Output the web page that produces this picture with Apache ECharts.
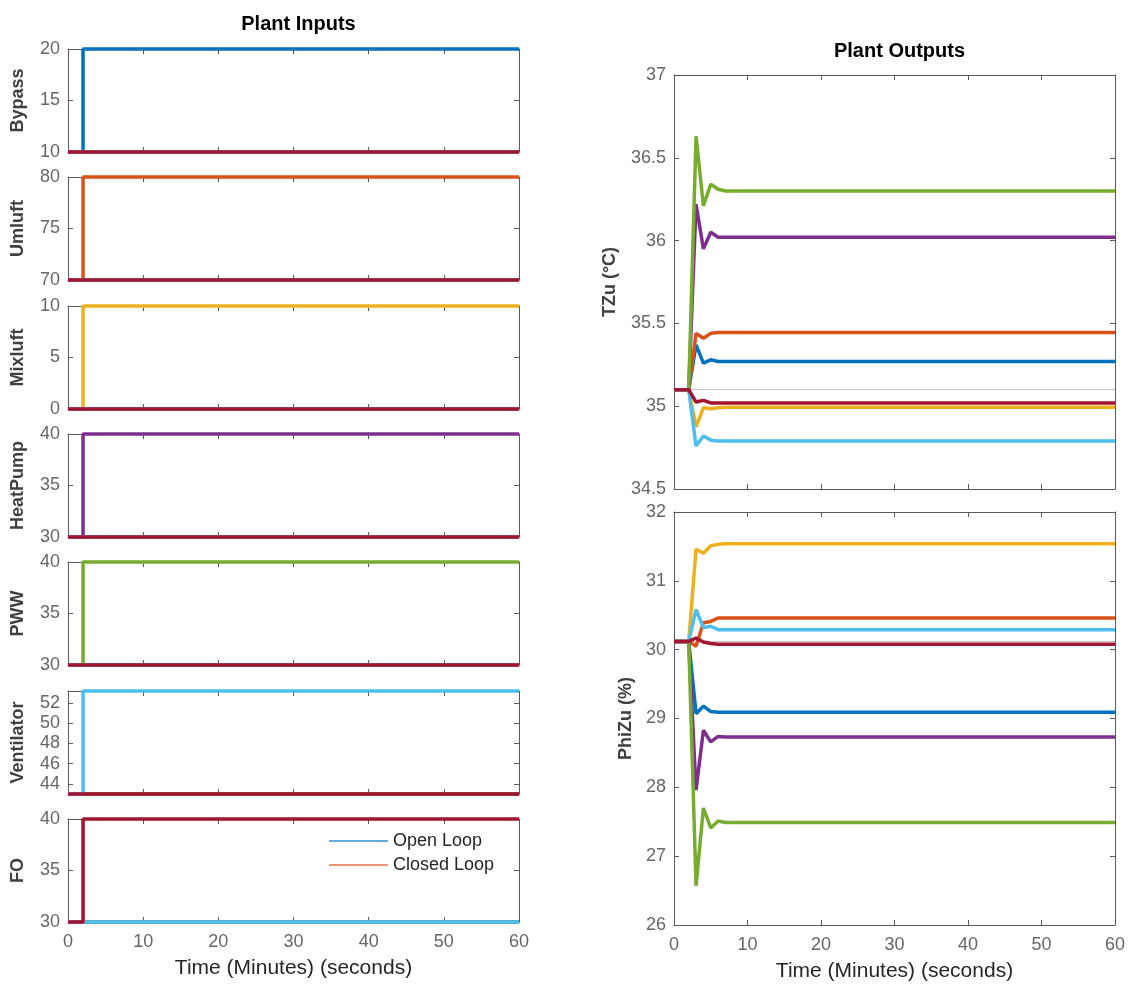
<!DOCTYPE html>
<html><head><meta charset="utf-8">
<script src="https://cdn.jsdelivr.net/npm/echarts@6/dist/echarts.min.js"></script>
<style>html,body{margin:0;padding:0;background:#fff}#c{width:1131px;height:986px}</style>
</head><body><div id="c"></div>
<script>
// ---------- DATA ----------
const colors = ['#0072BD','#D95319','#EDB120','#7E2F8E','#77AC30','#4DBEEE','#A2142F'];
const inputNames = ['Bypass','Umluft','Mixluft','HeatPump','PWW','Ventilator','FO'];
const inputLow  = [10, 70, 0, 30, 30, 43, 30];
const inputHigh = [20, 80, 10, 40, 40, 53.2, 40];
const inputTicks = [[10,15,20],[70,75,80],[0,5,10],[30,35,40],[30,35,40],[44,46,48,50,52],[30,35,40]];
const inputTime = [0, 2, 2, 60];           // step at t = 2
const xTicks = [0,10,20,30,40,50,60];

const tOut = [0, 2, 3, 4, 5, 6, 7, 60];
const tzuBlue   = [35.1, 35.1, 35.37, 35.26, 35.28, 35.27, 35.27, 35.27];
const tzuOrange = [35.1, 35.1, 35.44, 35.41, 35.44, 35.445, 35.445, 35.445];
const tzuYellow = [35.1, 35.1, 34.875, 34.99, 34.985, 34.99, 34.993, 34.993];
const tzuPurple = [35.1, 35.1, 36.22, 35.95, 36.05, 36.02, 36.02, 36.02];
const tzuGreen  = [35.1, 35.1, 36.63, 36.21, 36.34, 36.31, 36.30, 36.30];
const tzuLight  = [35.1, 35.1, 34.76, 34.82, 34.795, 34.79, 34.79, 34.79];
const tzuRed    = [35.1, 35.1, 35.025, 35.035, 35.02, 35.02, 35.02, 35.02];
const tzuRef = 35.1;
const tzuTicks = [34.5, 35, 35.5, 36, 36.5, 37];

const phiBlue   = [30.12, 30.12, 29.07, 29.18, 29.10, 29.09, 29.09, 29.09];
const phiOrange = [30.12, 30.12, 30.05, 30.39, 30.41, 30.46, 30.46, 30.46];
const phiYellow = [30.12, 30.12, 31.46, 31.40, 31.51, 31.53, 31.54, 31.54];
const phiPurple = [30.12, 30.12, 27.96, 28.83, 28.66, 28.74, 28.73, 28.73];
const phiGreen  = [30.12, 30.12, 26.57, 27.70, 27.41, 27.51, 27.49, 27.49];
const phiLight  = [30.12, 30.12, 30.58, 30.32, 30.34, 30.29, 30.29, 30.29];
const phiRed    = [30.12, 30.12, 30.17, 30.11, 30.09, 30.08, 30.08, 30.08];
const phiRef = 30.12;
const phiTicks = [26, 27, 28, 29, 30, 31, 32];

const legendNames = ['Open Loop', 'Closed Loop'];
const titles = ['Plant Inputs', 'Plant Outputs'];
const xName = 'Time (Minutes) (seconds)';
const outNames = ['TZu (°C)', 'PhiZu (%)'];

// ---------- LAYOUT / STYLE ----------
const FONT = 'Liberation Sans, Arial, Helvetica, sans-serif';
const AX = '#5a5a5a';
const TICKC = '#666666';
const LW = 3.5;
const leftTops = [49, 177, 306, 434, 562, 691, 819];
const grids = leftTops.map(t => ({left: 68, top: t, width: 451, height: 103}));
grids.push({left: 674, top: 75, width: 441, height: 414});
grids.push({left: 674, top: 512, width: 441, height: 413});

const xAxes = [], yAxes = [];
function addAxes(g, ticks, showX, yName, yNameGap) {
  const base = {type: 'value', gridIndex: g, splitLine: {show: false},
    axisLine: {show: true, onZero: false, lineStyle: {color: AX, width: 1}},
    axisTick: {show: true, inside: true, length: 5, lineStyle: {color: AX}}};
  xAxes.push(Object.assign({}, base, {position: 'bottom', min: xTicks[0], max: xTicks[xTicks.length-1],
    interval: xTicks[1]-xTicks[0],
    axisLabel: {show: showX, color: TICKC, fontSize: 18, fontFamily: FONT, margin: 11, showMinLabel: true, showMaxLabel: true},
    name: showX ? xName : '', nameLocation: 'middle', nameGap: 36,
    nameTextStyle: {fontSize: 21, color: '#262626', fontFamily: FONT}}));
  xAxes.push(Object.assign({}, base, {position: 'top', min: xTicks[0], max: xTicks[xTicks.length-1],
    interval: xTicks[1]-xTicks[0], axisLabel: {show: false}}));
  const ymin = ticks.min, ymax = ticks.max;
  const yl = {type: 'value', gridIndex: g, splitLine: {show: false}, min: ymin, max: ymax,
    axisLine: {show: true, onZero: false, lineStyle: {color: AX, width: 1}},
    axisTick: {show: true, inside: true, length: 5, lineStyle: {color: AX}, customValues: ticks.vals},
    axisLabel: {show: true, color: TICKC, fontSize: 18, fontFamily: FONT, margin: 8, customValues: ticks.vals,
      showMinLabel: true, showMaxLabel: true},
    position: 'left', name: yName, nameLocation: 'middle', nameGap: yNameGap, nameRotate: 90,
    nameTextStyle: {fontSize: 18, fontWeight: 'bold', color: '#404040', fontFamily: FONT}};
  yAxes.push(yl);
  yAxes.push({type: 'value', gridIndex: g, splitLine: {show: false}, min: ymin, max: ymax, position: 'right',
    axisLine: {show: true, onZero: false, lineStyle: {color: AX, width: 1}},
    axisTick: {show: true, inside: true, length: 5, lineStyle: {color: AX}, customValues: ticks.vals},
    axisLabel: {show: false}});
}

const series = [];
inputNames.forEach((nm, i) => {
  addAxes(i, {min: inputLow[i], max: inputHigh[i], vals: inputTicks[i]}, i === 6, nm, 41);
  for (let j = 0; j < 7; j++) {
    const lo = inputLow[i], hi = j === i ? inputHigh[i] : inputLow[i];
    const vals = [lo, lo, hi, hi];
    series.push({type: 'line', xAxisIndex: 2*i, yAxisIndex: 2*i, symbol: 'none', clip: false,
      silent: true, animation: false, color: colors[j], lineStyle: {width: LW, color: colors[j]},
      data: inputTime.map((t, k) => [t, vals[k]])});
  }
});

const tzu = [tzuBlue, tzuOrange, tzuYellow, tzuPurple, tzuGreen, tzuLight, tzuRed];
const phi = [phiBlue, phiOrange, phiYellow, phiPurple, phiGreen, phiLight, phiRed];
addAxes(7, {min: tzuTicks[0], max: tzuTicks[tzuTicks.length-1], vals: tzuTicks}, false, outNames[0], 55);
addAxes(8, {min: phiTicks[0], max: phiTicks[phiTicks.length-1], vals: phiTicks}, true, outNames[1], 39);
[[7, tzu, tzuRef], [8, phi, phiRef]].forEach(([g, arr, ref]) => {
  series.push({type: 'line', xAxisIndex: 2*g, yAxisIndex: 2*g, symbol: 'none', silent: true, animation: false,
    lineStyle: {width: 1, color: '#c0c0c0'}, color: '#c0c0c0',
    data: [[tOut[0], ref], [tOut[tOut.length-1], ref]]});
  arr.forEach((vals, j) => {
    series.push({type: 'line', xAxisIndex: 2*g, yAxisIndex: 2*g, symbol: 'none', silent: true, animation: false,
      color: colors[j], lineStyle: {width: LW, color: colors[j]},
      data: tOut.map((t, k) => [t, vals[k]])});
  });
});

// legend dummy series (FO subplot)
const legendColors = ['rgba(0,114,189,0.6)', 'rgba(217,83,25,0.6)'];
legendNames.forEach((nm, k) => {
  series.push({type: 'line', name: nm, xAxisIndex: 12, yAxisIndex: 12, symbol: 'none', data: [],
    color: legendColors[k], lineStyle: {width: 1.5, color: legendColors[k]}});
});

const chart = echarts.init(document.getElementById('c'), null, {renderer: 'canvas'});
chart.setOption({
  animation: false,
  backgroundColor: '#fff',
  title: [
    {text: titles[0], left: 293.5, top: 9, textAlign: 'center',
      textStyle: {fontSize: 20, fontWeight: 'bold', color: '#000', fontFamily: FONT}},
    {text: titles[1], left: 894.5, top: 36, textAlign: 'center',
      textStyle: {fontSize: 20, fontWeight: 'bold', color: '#000', fontFamily: FONT}}
  ],
  legend: {left: 329, top: 832, padding: 0, orient: 'vertical', itemWidth: 59, itemHeight: 2, itemGap: 6, icon: 'rect',
    selectedMode: false, textStyle: {fontSize: 18, color: '#262626', fontFamily: FONT},
    data: legendNames.map((nm, k) => ({name: nm, itemStyle: {color: legendColors[k]}}))},
  grid: grids,
  xAxis: xAxes,
  yAxis: yAxes,
  series: series
});
</script></body></html>
